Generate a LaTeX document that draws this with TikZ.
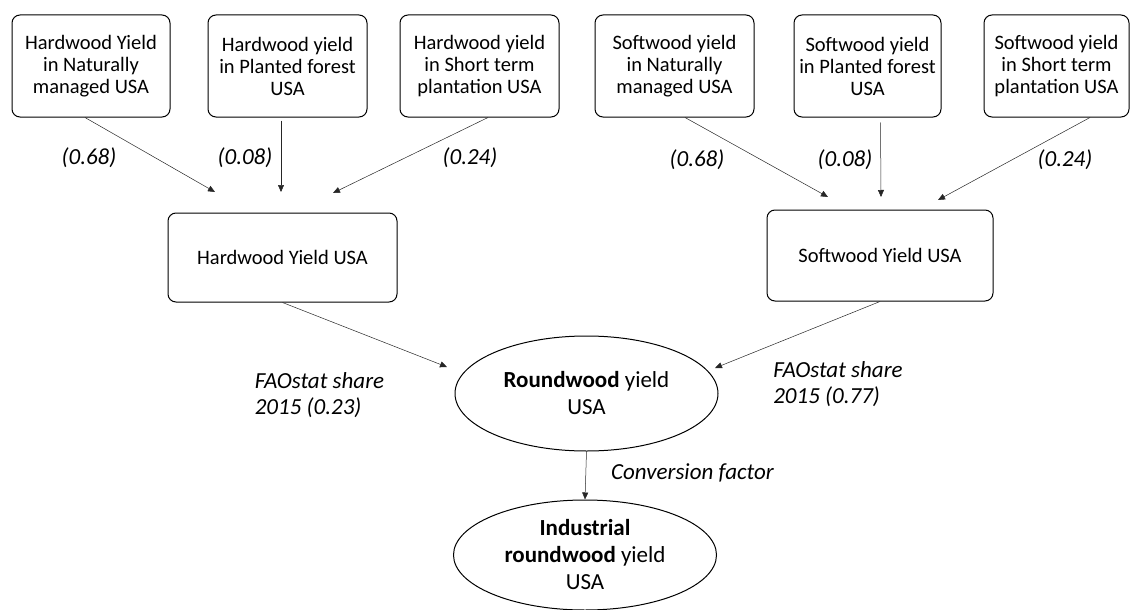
\documentclass[tikz,border=0pt]{standalone}
\usepackage{fontspec}
\setmainfont{Carlito}
\usetikzlibrary{shapes.geometric,arrows.meta}
\begin{document}
\begin{tikzpicture}[x=1pt,y=-1pt,
        kasten/.style={draw,rounded corners=8pt,line width=1pt,align=center,inner sep=0pt,
            font=\fontsize{20.5}{22}\selectfont},
        oval/.style={draw,ellipse,line width=1pt,align=center,inner sep=0pt,minimum width=263pt,
            font=\fontsize{23}{27}\selectfont},
        pfeil/.style={-{Triangle[length=7pt,width=6pt]},line width=0.5pt,black!85},
        zahl/.style={font=\fontsize{23}{26}\selectfont\itshape,align=left}]
    \useasboundingbox (0,0) rectangle (1130,610);

    % Hartholz, oben
    \node[kasten,minimum width=158pt,minimum height=102pt] (hn) at (91,66) {Hardwood Yield\\in Naturally\\managed USA};
    \node[kasten,minimum width=159pt,minimum height=102pt] (hp) at (287.5,66) {Hardwood yield\\in Planted forest\\USA};
    \node[kasten,minimum width=159pt,minimum height=102pt] (hs) at (479.5,66) {Hardwood yield\\in Short term\\plantation USA};

    % Weichholz, oben
    \node[kasten,minimum width=159pt,minimum height=102pt] (sn) at (674.5,66) {Softwood yield\\in Naturally\\managed USA};
    \node[kasten,minimum width=147pt,minimum height=102pt] (sp) at (867.5,66) {Softwood yield\\in Planted forest\\USA};
    \node[kasten,minimum width=145pt,minimum height=102pt] (ss) at (1056.5,66) {Softwood yield\\in Short term\\plantation USA};

    % Mitte
    \node[kasten,minimum width=229pt,minimum height=89pt] (hw) at (282.5,257.5) {Hardwood Yield USA};
    \node[kasten,minimum width=226pt,minimum height=91pt] (sw) at (880,255.5) {Softwood Yield USA};

    % unten
    \node[oval,minimum height=115pt] (rw) at (586.5,393.5) {\textbf{Roundwood} yield\\USA};
    \node[oval,minimum height=110pt] (irw) at (585,555) {\textbf{Industrial}\\\textbf{roundwood} yield\\USA};

    % Pfeilspitzen
    \coordinate (t1) at (215,192);
    \coordinate (t2) at (281,192);
    \coordinate (t3) at (333,193);
    \coordinate (t4) at (828,197);
    \coordinate (t5) at (881,197);
    \coordinate (t6) at (938,200);
    \coordinate (t7) at (447,367);
    \coordinate (t8) at (715,368);

    \draw[pfeil] ([xshift=-6pt]hn.south) -- (t1);
    \draw[pfeil] ([xshift=-6.5pt,yshift=-3pt]hp.south) -- (t2);
    \draw[pfeil] ([xshift=8.5pt]hs.south) -- (t3);
    \draw[pfeil] ([xshift=10.5pt]sn.south) -- (t4);
    \draw[pfeil] ([xshift=13pt,yshift=-5pt]sp.south) -- (t5);
    \draw[pfeil] ([xshift=33.5pt]ss.south) -- (t6);
    \draw[pfeil] (hw.south) -- (t7);
    \draw[pfeil] (sw.south) -- (t8);
    \draw[pfeil] (rw.south) -- (irw.north);

    % Anteile
    \node[zahl] (g1) at (89,158) {(0.68)};
    \node[zahl] (g2) at (245,158) {(0.08)};
    \node[zahl] (g3) at (470,158) {(0.24)};
    \node[zahl] (g4) at (697,160) {(0.68)};
    \node[zahl] (g5) at (845,160) {(0.08)};
    \node[zahl] (g6) at (1065,160) {(0.24)};
    \node[zahl] (fh) at (319.5,395) {FAOstat share\\2015 (0.23)};
    \node[zahl] (fs) at (838,384) {FAOstat share\\2015 (0.77)};
    \node[zahl] (cf) at (692.5,473) {Conversion factor};
\end{tikzpicture}
\end{document}
